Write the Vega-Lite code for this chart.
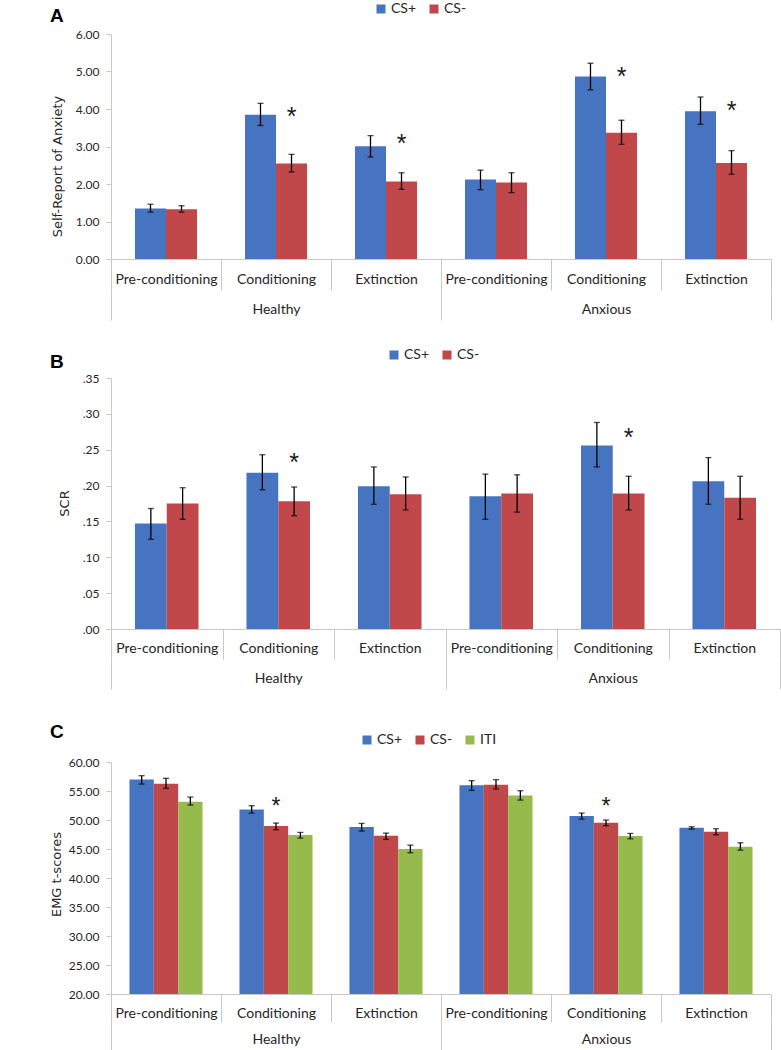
{
  "$schema": "https://vega.github.io/schema/vega-lite/v6.json",
  "padding": {"left": 50, "top": 2, "right": 0, "bottom": 0},
  "autosize": {"type": "pad"},
  "background": "white",
  "config": {
    "view": {"stroke": null},
    "axis": {"grid": false, "labelColor": "#262626", "titleColor": "#262626"}
  },
  "datasets": {
    "A": [
      {"g": "Healthy", "slot": "Healthy|Pre-conditioning", "c": "CS+", "m": 1.35, "lo": 1.25, "hi": 1.46},
      {"g": "Healthy", "slot": "Healthy|Pre-conditioning", "c": "CS-", "m": 1.33, "lo": 1.25, "hi": 1.42},
      {"g": "Healthy", "slot": "Healthy|Conditioning", "c": "CS+", "m": 3.85, "lo": 3.56, "hi": 4.15},
      {"g": "Healthy", "slot": "Healthy|Conditioning", "c": "CS-", "m": 2.55, "lo": 2.32, "hi": 2.79, "s": 3.93},
      {"g": "Healthy", "slot": "Healthy|Extinction", "c": "CS+", "m": 3.01, "lo": 2.72, "hi": 3.29},
      {"g": "Healthy", "slot": "Healthy|Extinction", "c": "CS-", "m": 2.07, "lo": 1.86, "hi": 2.30, "s": 3.19},
      {"g": "Anxious", "slot": "Anxious|Pre-conditioning", "c": "CS+", "m": 2.12, "lo": 1.85, "hi": 2.37},
      {"g": "Anxious", "slot": "Anxious|Pre-conditioning", "c": "CS-", "m": 2.04, "lo": 1.77, "hi": 2.30},
      {"g": "Anxious", "slot": "Anxious|Conditioning", "c": "CS+", "m": 4.87, "lo": 4.51, "hi": 5.22},
      {"g": "Anxious", "slot": "Anxious|Conditioning", "c": "CS-", "m": 3.37, "lo": 3.06, "hi": 3.70, "s": 4.99},
      {"g": "Anxious", "slot": "Anxious|Extinction", "c": "CS+", "m": 3.94, "lo": 3.59, "hi": 4.32},
      {"g": "Anxious", "slot": "Anxious|Extinction", "c": "CS-", "m": 2.56, "lo": 2.26, "hi": 2.89, "s": 4.08}
    ],
    "B": [
      {"g": "Healthy", "slot": "Healthy|Pre-conditioning", "c": "CS+", "m": 0.147, "lo": 0.125, "hi": 0.168},
      {"g": "Healthy", "slot": "Healthy|Pre-conditioning", "c": "CS-", "m": 0.175, "lo": 0.153, "hi": 0.197},
      {"g": "Healthy", "slot": "Healthy|Conditioning", "c": "CS+", "m": 0.218, "lo": 0.194, "hi": 0.243},
      {"g": "Healthy", "slot": "Healthy|Conditioning", "c": "CS-", "m": 0.178, "lo": 0.158, "hi": 0.198, "s": 0.239},
      {"g": "Healthy", "slot": "Healthy|Extinction", "c": "CS+", "m": 0.199, "lo": 0.174, "hi": 0.226},
      {"g": "Healthy", "slot": "Healthy|Extinction", "c": "CS-", "m": 0.188, "lo": 0.166, "hi": 0.212},
      {"g": "Anxious", "slot": "Anxious|Pre-conditioning", "c": "CS+", "m": 0.185, "lo": 0.153, "hi": 0.216},
      {"g": "Anxious", "slot": "Anxious|Pre-conditioning", "c": "CS-", "m": 0.189, "lo": 0.163, "hi": 0.215},
      {"g": "Anxious", "slot": "Anxious|Conditioning", "c": "CS+", "m": 0.256, "lo": 0.226, "hi": 0.288},
      {"g": "Anxious", "slot": "Anxious|Conditioning", "c": "CS-", "m": 0.189, "lo": 0.166, "hi": 0.213, "s": 0.274},
      {"g": "Anxious", "slot": "Anxious|Extinction", "c": "CS+", "m": 0.206, "lo": 0.174, "hi": 0.239},
      {"g": "Anxious", "slot": "Anxious|Extinction", "c": "CS-", "m": 0.183, "lo": 0.153, "hi": 0.213}
    ],
    "C": [
      {"g": "Healthy", "slot": "Healthy|Pre-conditioning", "c": "CS+", "m": 57.0, "lo": 56.2, "hi": 57.64},
      {"g": "Healthy", "slot": "Healthy|Pre-conditioning", "c": "CS-", "m": 56.26, "lo": 55.45, "hi": 57.18},
      {"g": "Healthy", "slot": "Healthy|Pre-conditioning", "c": "ITI", "m": 53.15, "lo": 52.58, "hi": 53.96},
      {"g": "Healthy", "slot": "Healthy|Conditioning", "c": "CS+", "m": 51.83, "lo": 51.19, "hi": 52.46},
      {"g": "Healthy", "slot": "Healthy|Conditioning", "c": "CS-", "m": 48.95, "lo": 48.32, "hi": 49.47, "s": 53.04},
      {"g": "Healthy", "slot": "Healthy|Conditioning", "c": "ITI", "m": 47.40, "lo": 46.88, "hi": 47.86},
      {"g": "Healthy", "slot": "Healthy|Extinction", "c": "CS+", "m": 48.78, "lo": 48.09, "hi": 49.41},
      {"g": "Healthy", "slot": "Healthy|Extinction", "c": "CS-", "m": 47.28, "lo": 46.65, "hi": 47.74},
      {"g": "Healthy", "slot": "Healthy|Extinction", "c": "ITI", "m": 44.98, "lo": 44.35, "hi": 45.67},
      {"g": "Anxious", "slot": "Anxious|Pre-conditioning", "c": "CS+", "m": 55.97, "lo": 55.11, "hi": 56.78},
      {"g": "Anxious", "slot": "Anxious|Pre-conditioning", "c": "CS-", "m": 56.09, "lo": 55.34, "hi": 56.95},
      {"g": "Anxious", "slot": "Anxious|Pre-conditioning", "c": "ITI", "m": 54.24, "lo": 53.44, "hi": 55.05},
      {"g": "Anxious", "slot": "Anxious|Conditioning", "c": "CS+", "m": 50.68, "lo": 50.16, "hi": 51.19},
      {"g": "Anxious", "slot": "Anxious|Conditioning", "c": "CS-", "m": 49.52, "lo": 49.01, "hi": 49.99, "s": 53.04},
      {"g": "Anxious", "slot": "Anxious|Conditioning", "c": "ITI", "m": 47.22, "lo": 46.76, "hi": 47.68},
      {"g": "Anxious", "slot": "Anxious|Extinction", "c": "CS+", "m": 48.66, "lo": 48.43, "hi": 48.83},
      {"g": "Anxious", "slot": "Anxious|Extinction", "c": "CS-", "m": 47.97, "lo": 47.45, "hi": 48.49},
      {"g": "Anxious", "slot": "Anxious|Extinction", "c": "ITI", "m": 45.38, "lo": 44.81, "hi": 46.07}
    ]
  },
  "vconcat": [
    {
      "width": 660,
      "height": 225,
      "title": {"text": "A", "anchor": "start", "frame": "group", "dx": -61, "offset": -24, "font": "Liberation Sans", "fontSize": 19, "fontWeight": "bold", "color": "black"},
      "data": {"name": "A"},
      "layer": [
        {
          "layer": [
            {
              "mark": {"type": "bar"},
              "encoding": {
                "x": {"field": "slot", "type": "nominal", "axis": null,
                  "scale": {"domain": ["Healthy|Pre-conditioning", "Healthy|Conditioning", "Healthy|Extinction", "Anxious|Pre-conditioning", "Anxious|Conditioning", "Anxious|Extinction"], "paddingInner": 0.436, "paddingOuter": 0.218}},
                "xOffset": {"field": "c", "type": "nominal", "scale": {"domain": ["CS+", "CS-"], "paddingInner": 0, "paddingOuter": 0}},
                "y": {"field": "m", "type": "quantitative", "title": "Self-Report of Anxiety",
                  "scale": {"domain": [0, 6], "nice": false},
                  "axis": {"values": [0, 1, 2, 3, 4, 5, 6], "labelOverlap": false, "format": ".2f", "tickSize": 5, "tickColor": "#c8c8c8", "domainColor": "#c8c8c8", "labelFont": "Lato", "labelFontSize": 12, "labelPadding": 7, "titleFont": "DejaVu Sans", "titleFontSize": 13, "titleFontWeight": "normal", "titleX": -54, "titleY": 132, "titleBaseline": "middle"}},
                "color": {"field": "c", "type": "nominal",
                  "scale": {"domain": ["CS+", "CS-"], "range": ["#4674C1", "#C0474A"]},
                  "legend": {"orient": "none", "legendX": 263, "legendY": -32, "direction": "horizontal", "title": null, "symbolType": "square", "symbolSize": 81, "symbolStrokeWidth": 0, "labelFont": "Lato", "labelFontSize": 14, "labelColor": "#262626", "labelOffset": 3, "columnPadding": 10}}
              }
            },
            {
              "mark": {"type": "rule", "color": "black", "strokeWidth": 1.3},
              "encoding": {
                "x": {"field": "slot", "type": "nominal", "axis": null},
                "xOffset": {"field": "c", "type": "nominal"},
                "y": {"field": "lo", "type": "quantitative", "title": "Self-Report of Anxiety",
                  "axis": {"values": [0, 1, 2, 3, 4, 5, 6], "labelOverlap": false, "format": ".2f", "tickSize": 5, "tickColor": "#c8c8c8", "domainColor": "#c8c8c8", "labelFont": "Lato", "labelFontSize": 12, "labelPadding": 7, "titleFont": "DejaVu Sans", "titleFontSize": 13, "titleFontWeight": "normal", "titleX": -54, "titleY": 132, "titleBaseline": "middle"}},
                "y2": {"field": "hi"}
              }
            },
            {
              "mark": {"type": "tick", "orient": "horizontal", "size": 6, "thickness": 1.3, "color": "black"},
              "encoding": {
                "x": {"field": "slot", "type": "nominal", "axis": null},
                "xOffset": {"field": "c", "type": "nominal"},
                "y": {"field": "lo", "type": "quantitative", "title": "Self-Report of Anxiety",
                  "axis": {"values": [0, 1, 2, 3, 4, 5, 6], "labelOverlap": false, "format": ".2f", "tickSize": 5, "tickColor": "#c8c8c8", "domainColor": "#c8c8c8", "labelFont": "Lato", "labelFontSize": 12, "labelPadding": 7, "titleFont": "DejaVu Sans", "titleFontSize": 13, "titleFontWeight": "normal", "titleX": -54, "titleY": 132, "titleBaseline": "middle"}}
              }
            },
            {
              "mark": {"type": "tick", "orient": "horizontal", "size": 6, "thickness": 1.3, "color": "black"},
              "encoding": {
                "x": {"field": "slot", "type": "nominal", "axis": null},
                "xOffset": {"field": "c", "type": "nominal"},
                "y": {"field": "hi", "type": "quantitative", "title": "Self-Report of Anxiety",
                  "axis": {"values": [0, 1, 2, 3, 4, 5, 6], "labelOverlap": false, "format": ".2f", "tickSize": 5, "tickColor": "#c8c8c8", "domainColor": "#c8c8c8", "labelFont": "Lato", "labelFontSize": 12, "labelPadding": 7, "titleFont": "DejaVu Sans", "titleFontSize": 13, "titleFontWeight": "normal", "titleX": -54, "titleY": 132, "titleBaseline": "middle"}}
              }
            },
            {
              "transform": [{"filter": "isValid(datum.s)"}],
              "mark": {"type": "text", "text": "*", "font": "Liberation Sans", "fontSize": 25, "baseline": "middle", "dy": 5, "color": "#1a1a1a"},
              "encoding": {
                "x": {"field": "slot", "type": "nominal", "axis": null},
                "xOffset": {"field": "c", "type": "nominal"},
                "y": {"field": "s", "type": "quantitative", "title": "Self-Report of Anxiety",
                  "axis": {"values": [0, 1, 2, 3, 4, 5, 6], "labelOverlap": false, "format": ".2f", "tickSize": 5, "tickColor": "#c8c8c8", "domainColor": "#c8c8c8", "labelFont": "Lato", "labelFontSize": 12, "labelPadding": 7, "titleFont": "DejaVu Sans", "titleFontSize": 13, "titleFontWeight": "normal", "titleX": -54, "titleY": 132, "titleBaseline": "middle"}}
              }
            }
          ]
        },
        {
          "mark": {"type": "point", "opacity": 0},
          "encoding": {
            "x": {"field": "slot", "type": "nominal", "title": null,
              "scale": {"domain": ["Healthy|Pre-conditioning", "Healthy|Conditioning", "Healthy|Extinction", "Anxious|Pre-conditioning", "Anxious|Conditioning", "Anxious|Extinction"], "paddingInner": 0, "paddingOuter": 0},
              "axis": {"orient": "bottom", "labelExpr": "split(datum.value, '|')[1]", "labelAngle": 0, "tickBand": "extent", "tickSize": 31, "tickColor": "#c8c8c8", "domainColor": "#c8c8c8", "labelPadding": -18, "labelFont": "Lato", "labelFontSize": 14}},
            "y": {"field": "m", "type": "quantitative", "title": "Self-Report of Anxiety",
              "axis": {"values": [0, 1, 2, 3, 4, 5, 6], "labelOverlap": false, "format": ".2f", "tickSize": 5, "tickColor": "#c8c8c8", "domainColor": "#c8c8c8", "labelFont": "Lato", "labelFontSize": 12, "labelPadding": 7, "titleFont": "DejaVu Sans", "titleFontSize": 13, "titleFontWeight": "normal", "titleX": -54, "titleY": 132, "titleBaseline": "middle"}}
          }
        },
        {
          "mark": {"type": "point", "opacity": 0},
          "encoding": {
            "x": {"field": "g", "type": "nominal", "title": null,
              "scale": {"domain": ["Healthy", "Anxious"], "paddingInner": 0, "paddingOuter": 0},
              "axis": {"orient": "bottom", "offset": 31, "labelAngle": 0, "tickBand": "extent", "tickSize": 30, "tickColor": "#c8c8c8", "domain": false, "labelPadding": -18, "labelFont": "Lato", "labelFontSize": 14}},
            "y": {"field": "m", "type": "quantitative", "title": "Self-Report of Anxiety",
              "axis": {"values": [0, 1, 2, 3, 4, 5, 6], "labelOverlap": false, "format": ".2f", "tickSize": 5, "tickColor": "#c8c8c8", "domainColor": "#c8c8c8", "labelFont": "Lato", "labelFontSize": 12, "labelPadding": 7, "titleFont": "DejaVu Sans", "titleFontSize": 13, "titleFontWeight": "normal", "titleX": -54, "titleY": 132, "titleBaseline": "middle"}}
          }
        }
      ],
      "resolve": {"scale": {"x": "independent"}, "axis": {"x": "independent"}}
    },
    {
      "vconcat": [
        {
          "width": 669,
          "height": 251,
          "title": {"text": "B", "anchor": "start", "frame": "group", "dx": -61, "offset": -24, "font": "Liberation Sans", "fontSize": 19, "fontWeight": "bold", "color": "black"},
          "data": {"name": "B"},
          "layer": [
            {
              "layer": [
                {
                  "mark": {"type": "bar"},
                  "encoding": {
                    "x": {"field": "slot", "type": "nominal", "axis": null,
                      "scale": {"domain": ["Healthy|Pre-conditioning", "Healthy|Conditioning", "Healthy|Extinction", "Anxious|Pre-conditioning", "Anxious|Conditioning", "Anxious|Extinction"], "paddingInner": 0.43, "paddingOuter": 0.215}},
                    "xOffset": {"field": "c", "type": "nominal", "scale": {"domain": ["CS+", "CS-"], "paddingInner": 0, "paddingOuter": 0}},
                    "y": {"field": "m", "type": "quantitative", "title": "SCR",
                      "scale": {"domain": [0, 0.35], "nice": false},
                      "axis": {"values": [0, 0.05, 0.1, 0.15, 0.2, 0.25, 0.3, 0.35], "labelOverlap": false, "labelExpr": "slice(format(datum.value, '.2f'), 1)", "tickSize": 5, "tickColor": "#c8c8c8", "domainColor": "#c8c8c8", "labelFont": "Lato", "labelFontSize": 12, "labelPadding": 7, "titleFont": "DejaVu Sans", "titleFontSize": 13, "titleFontWeight": "normal", "titleX": -47, "titleY": 125, "titleBaseline": "middle"}},
                    "color": {"field": "c", "type": "nominal",
                      "scale": {"domain": ["CS+", "CS-"], "range": ["#4674C1", "#C0474A"]},
                      "legend": {"orient": "none", "legendX": 276, "legendY": -30, "direction": "horizontal", "title": null, "symbolType": "square", "symbolSize": 81, "symbolStrokeWidth": 0, "labelFont": "Lato", "labelFontSize": 14, "labelColor": "#262626", "labelOffset": 3, "columnPadding": 10}}
                  }
                },
                {
                  "mark": {"type": "rule", "color": "black", "strokeWidth": 1.3},
                  "encoding": {
                    "x": {"field": "slot", "type": "nominal", "axis": null},
                    "xOffset": {"field": "c", "type": "nominal"},
                    "y": {"field": "lo", "type": "quantitative", "title": "SCR",
                      "axis": {"values": [0, 0.05, 0.1, 0.15, 0.2, 0.25, 0.3, 0.35], "labelOverlap": false, "labelExpr": "slice(format(datum.value, '.2f'), 1)", "tickSize": 5, "tickColor": "#c8c8c8", "domainColor": "#c8c8c8", "labelFont": "Lato", "labelFontSize": 12, "labelPadding": 7, "titleFont": "DejaVu Sans", "titleFontSize": 13, "titleFontWeight": "normal", "titleX": -47, "titleY": 125, "titleBaseline": "middle"}},
                    "y2": {"field": "hi"}
                  }
                },
                {
                  "mark": {"type": "tick", "orient": "horizontal", "size": 6, "thickness": 1.3, "color": "black"},
                  "encoding": {
                    "x": {"field": "slot", "type": "nominal", "axis": null},
                    "xOffset": {"field": "c", "type": "nominal"},
                    "y": {"field": "lo", "type": "quantitative", "title": "SCR",
                      "axis": {"values": [0, 0.05, 0.1, 0.15, 0.2, 0.25, 0.3, 0.35], "labelOverlap": false, "labelExpr": "slice(format(datum.value, '.2f'), 1)", "tickSize": 5, "tickColor": "#c8c8c8", "domainColor": "#c8c8c8", "labelFont": "Lato", "labelFontSize": 12, "labelPadding": 7, "titleFont": "DejaVu Sans", "titleFontSize": 13, "titleFontWeight": "normal", "titleX": -47, "titleY": 125, "titleBaseline": "middle"}}
                  }
                },
                {
                  "mark": {"type": "tick", "orient": "horizontal", "size": 6, "thickness": 1.3, "color": "black"},
                  "encoding": {
                    "x": {"field": "slot", "type": "nominal", "axis": null},
                    "xOffset": {"field": "c", "type": "nominal"},
                    "y": {"field": "hi", "type": "quantitative", "title": "SCR",
                      "axis": {"values": [0, 0.05, 0.1, 0.15, 0.2, 0.25, 0.3, 0.35], "labelOverlap": false, "labelExpr": "slice(format(datum.value, '.2f'), 1)", "tickSize": 5, "tickColor": "#c8c8c8", "domainColor": "#c8c8c8", "labelFont": "Lato", "labelFontSize": 12, "labelPadding": 7, "titleFont": "DejaVu Sans", "titleFontSize": 13, "titleFontWeight": "normal", "titleX": -47, "titleY": 125, "titleBaseline": "middle"}}
                  }
                },
                {
                  "transform": [{"filter": "isValid(datum.s)"}],
                  "mark": {"type": "text", "text": "*", "font": "Liberation Sans", "fontSize": 25, "baseline": "middle", "dy": 5, "color": "#1a1a1a"},
                  "encoding": {
                    "x": {"field": "slot", "type": "nominal", "axis": null},
                    "xOffset": {"field": "c", "type": "nominal"},
                    "y": {"field": "s", "type": "quantitative", "title": "SCR",
                      "axis": {"values": [0, 0.05, 0.1, 0.15, 0.2, 0.25, 0.3, 0.35], "labelOverlap": false, "labelExpr": "slice(format(datum.value, '.2f'), 1)", "tickSize": 5, "tickColor": "#c8c8c8", "domainColor": "#c8c8c8", "labelFont": "Lato", "labelFontSize": 12, "labelPadding": 7, "titleFont": "DejaVu Sans", "titleFontSize": 13, "titleFontWeight": "normal", "titleX": -47, "titleY": 125, "titleBaseline": "middle"}}
                  }
                }
              ]
            },
            {
              "mark": {"type": "point", "opacity": 0},
              "encoding": {
                "x": {"field": "slot", "type": "nominal", "title": null,
                  "scale": {"domain": ["Healthy|Pre-conditioning", "Healthy|Conditioning", "Healthy|Extinction", "Anxious|Pre-conditioning", "Anxious|Conditioning", "Anxious|Extinction"], "paddingInner": 0, "paddingOuter": 0},
                  "axis": {"orient": "bottom", "labelExpr": "split(datum.value, '|')[1]", "labelAngle": 0, "tickBand": "extent", "tickSize": 30, "tickColor": "#c8c8c8", "domainColor": "#c8c8c8", "labelPadding": -18, "labelFont": "Lato", "labelFontSize": 14}},
                "y": {"field": "m", "type": "quantitative", "title": "SCR",
                  "axis": {"values": [0, 0.05, 0.1, 0.15, 0.2, 0.25, 0.3, 0.35], "labelOverlap": false, "labelExpr": "slice(format(datum.value, '.2f'), 1)", "tickSize": 5, "tickColor": "#c8c8c8", "domainColor": "#c8c8c8", "labelFont": "Lato", "labelFontSize": 12, "labelPadding": 7, "titleFont": "DejaVu Sans", "titleFontSize": 13, "titleFontWeight": "normal", "titleX": -47, "titleY": 125, "titleBaseline": "middle"}}
              }
            },
            {
              "mark": {"type": "point", "opacity": 0},
              "encoding": {
                "x": {"field": "g", "type": "nominal", "title": null,
                  "scale": {"domain": ["Healthy", "Anxious"], "paddingInner": 0, "paddingOuter": 0},
                  "axis": {"orient": "bottom", "offset": 30, "labelAngle": 0, "tickBand": "extent", "tickSize": 30, "tickColor": "#c8c8c8", "domain": false, "labelPadding": -18, "labelFont": "Lato", "labelFontSize": 14}},
                "y": {"field": "m", "type": "quantitative", "title": "SCR",
                  "axis": {"values": [0, 0.05, 0.1, 0.15, 0.2, 0.25, 0.3, 0.35], "labelOverlap": false, "labelExpr": "slice(format(datum.value, '.2f'), 1)", "tickSize": 5, "tickColor": "#c8c8c8", "domainColor": "#c8c8c8", "labelFont": "Lato", "labelFontSize": 12, "labelPadding": 7, "titleFont": "DejaVu Sans", "titleFontSize": 13, "titleFontWeight": "normal", "titleX": -47, "titleY": 125, "titleBaseline": "middle"}}
              }
            }
          ],
          "resolve": {"scale": {"x": "independent"}, "axis": {"x": "independent"}}
        },
        {
          "width": 660,
          "height": 232,
          "title": {"text": "C", "anchor": "start", "frame": "group", "dx": -61, "offset": -9, "font": "Liberation Sans", "fontSize": 19, "fontWeight": "bold", "color": "black"},
          "data": {"name": "C"},
          "layer": [
            {
              "layer": [
                {
                  "mark": {"type": "bar"},
                  "encoding": {
                    "x": {"field": "slot", "type": "nominal", "axis": null,
                      "scale": {"domain": ["Healthy|Pre-conditioning", "Healthy|Conditioning", "Healthy|Extinction", "Anxious|Pre-conditioning", "Anxious|Conditioning", "Anxious|Extinction"], "paddingInner": 0.336, "paddingOuter": 0.168}},
                    "xOffset": {"field": "c", "type": "nominal", "scale": {"domain": ["CS+", "CS-", "ITI"], "paddingInner": 0, "paddingOuter": 0}},
                    "y": {"field": "m", "type": "quantitative", "title": "EMG t-scores",
                      "scale": {"domain": [20, 60], "nice": false, "zero": false},
                      "axis": {"values": [20, 25, 30, 35, 40, 45, 50, 55, 60], "labelOverlap": false, "format": ".2f", "tickSize": 5, "tickColor": "#c8c8c8", "domainColor": "#c8c8c8", "labelFont": "Lato", "labelFontSize": 12, "labelPadding": 7, "titleFont": "DejaVu Sans", "titleFontSize": 13, "titleFontWeight": "normal", "titleX": -55, "titleY": 112, "titleBaseline": "middle"}},
                    "y2": {"datum": 20},
                    "color": {"field": "c", "type": "nominal",
                      "scale": {"domain": ["CS+", "CS-", "ITI"], "range": ["#4674C1", "#C0474A", "#97BA4D"]},
                      "legend": {"orient": "none", "legendX": 249, "legendY": -29, "direction": "horizontal", "title": null, "symbolType": "square", "symbolSize": 81, "symbolStrokeWidth": 0, "labelFont": "Lato", "labelFontSize": 14, "labelColor": "#262626", "labelOffset": 3, "columnPadding": 10}}
                  }
                },
                {
                  "mark": {"type": "rule", "color": "black", "strokeWidth": 1.3},
                  "encoding": {
                    "x": {"field": "slot", "type": "nominal", "axis": null},
                    "xOffset": {"field": "c", "type": "nominal"},
                    "y": {"field": "lo", "type": "quantitative", "title": "EMG t-scores",
                      "axis": {"values": [20, 25, 30, 35, 40, 45, 50, 55, 60], "labelOverlap": false, "format": ".2f", "tickSize": 5, "tickColor": "#c8c8c8", "domainColor": "#c8c8c8", "labelFont": "Lato", "labelFontSize": 12, "labelPadding": 7, "titleFont": "DejaVu Sans", "titleFontSize": 13, "titleFontWeight": "normal", "titleX": -55, "titleY": 112, "titleBaseline": "middle"}},
                    "y2": {"field": "hi"}
                  }
                },
                {
                  "mark": {"type": "tick", "orient": "horizontal", "size": 6, "thickness": 1.3, "color": "black"},
                  "encoding": {
                    "x": {"field": "slot", "type": "nominal", "axis": null},
                    "xOffset": {"field": "c", "type": "nominal"},
                    "y": {"field": "lo", "type": "quantitative", "title": "EMG t-scores",
                      "axis": {"values": [20, 25, 30, 35, 40, 45, 50, 55, 60], "labelOverlap": false, "format": ".2f", "tickSize": 5, "tickColor": "#c8c8c8", "domainColor": "#c8c8c8", "labelFont": "Lato", "labelFontSize": 12, "labelPadding": 7, "titleFont": "DejaVu Sans", "titleFontSize": 13, "titleFontWeight": "normal", "titleX": -55, "titleY": 112, "titleBaseline": "middle"}}
                  }
                },
                {
                  "mark": {"type": "tick", "orient": "horizontal", "size": 6, "thickness": 1.3, "color": "black"},
                  "encoding": {
                    "x": {"field": "slot", "type": "nominal", "axis": null},
                    "xOffset": {"field": "c", "type": "nominal"},
                    "y": {"field": "hi", "type": "quantitative", "title": "EMG t-scores",
                      "axis": {"values": [20, 25, 30, 35, 40, 45, 50, 55, 60], "labelOverlap": false, "format": ".2f", "tickSize": 5, "tickColor": "#c8c8c8", "domainColor": "#c8c8c8", "labelFont": "Lato", "labelFontSize": 12, "labelPadding": 7, "titleFont": "DejaVu Sans", "titleFontSize": 13, "titleFontWeight": "normal", "titleX": -55, "titleY": 112, "titleBaseline": "middle"}}
                  }
                },
                {
                  "transform": [{"filter": "isValid(datum.s)"}],
                  "mark": {"type": "text", "text": "*", "font": "Liberation Sans", "fontSize": 23, "baseline": "middle", "dy": 5, "color": "#1a1a1a"},
                  "encoding": {
                    "x": {"field": "slot", "type": "nominal", "axis": null},
                    "xOffset": {"field": "c", "type": "nominal"},
                    "y": {"field": "s", "type": "quantitative", "title": "EMG t-scores",
                      "axis": {"values": [20, 25, 30, 35, 40, 45, 50, 55, 60], "labelOverlap": false, "format": ".2f", "tickSize": 5, "tickColor": "#c8c8c8", "domainColor": "#c8c8c8", "labelFont": "Lato", "labelFontSize": 12, "labelPadding": 7, "titleFont": "DejaVu Sans", "titleFontSize": 13, "titleFontWeight": "normal", "titleX": -55, "titleY": 112, "titleBaseline": "middle"}}
                  }
                }
              ]
            },
            {
              "mark": {"type": "point", "opacity": 0},
              "encoding": {
                "x": {"field": "slot", "type": "nominal", "title": null,
                  "scale": {"domain": ["Healthy|Pre-conditioning", "Healthy|Conditioning", "Healthy|Extinction", "Anxious|Pre-conditioning", "Anxious|Conditioning", "Anxious|Extinction"], "paddingInner": 0, "paddingOuter": 0},
                  "axis": {"orient": "bottom", "labelExpr": "split(datum.value, '|')[1]", "labelAngle": 0, "tickBand": "extent", "tickSize": 28, "tickColor": "#c8c8c8", "domainColor": "#c8c8c8", "labelPadding": -16, "labelFont": "Lato", "labelFontSize": 14}},
                "y": {"field": "m", "type": "quantitative", "title": "EMG t-scores",
                  "axis": {"values": [20, 25, 30, 35, 40, 45, 50, 55, 60], "labelOverlap": false, "format": ".2f", "tickSize": 5, "tickColor": "#c8c8c8", "domainColor": "#c8c8c8", "labelFont": "Lato", "labelFontSize": 12, "labelPadding": 7, "titleFont": "DejaVu Sans", "titleFontSize": 13, "titleFontWeight": "normal", "titleX": -55, "titleY": 112, "titleBaseline": "middle"}}
              }
            },
            {
              "mark": {"type": "point", "opacity": 0},
              "encoding": {
                "x": {"field": "g", "type": "nominal", "title": null,
                  "scale": {"domain": ["Healthy", "Anxious"], "paddingInner": 0, "paddingOuter": 0},
                  "axis": {"orient": "bottom", "offset": 28, "labelAngle": 0, "tickBand": "extent", "tickSize": 28, "tickColor": "#c8c8c8", "domain": false, "labelPadding": -18, "labelFont": "Lato", "labelFontSize": 14}},
                "y": {"field": "m", "type": "quantitative", "title": "EMG t-scores",
                  "axis": {"values": [20, 25, 30, 35, 40, 45, 50, 55, 60], "labelOverlap": false, "format": ".2f", "tickSize": 5, "tickColor": "#c8c8c8", "domainColor": "#c8c8c8", "labelFont": "Lato", "labelFontSize": 12, "labelPadding": 7, "titleFont": "DejaVu Sans", "titleFontSize": 13, "titleFontWeight": "normal", "titleX": -55, "titleY": 112, "titleBaseline": "middle"}}
              }
            }
          ],
          "resolve": {"scale": {"x": "independent"}, "axis": {"x": "independent"}}
        }
      ],
      "spacing": 133,
      "bounds": "flush",
      "resolve": {"scale": {"color": "independent", "xOffset": "independent"}}
    }
  ],
  "spacing": 119,
  "bounds": "flush",
  "resolve": {"scale": {"color": "independent", "xOffset": "independent"}}
}
